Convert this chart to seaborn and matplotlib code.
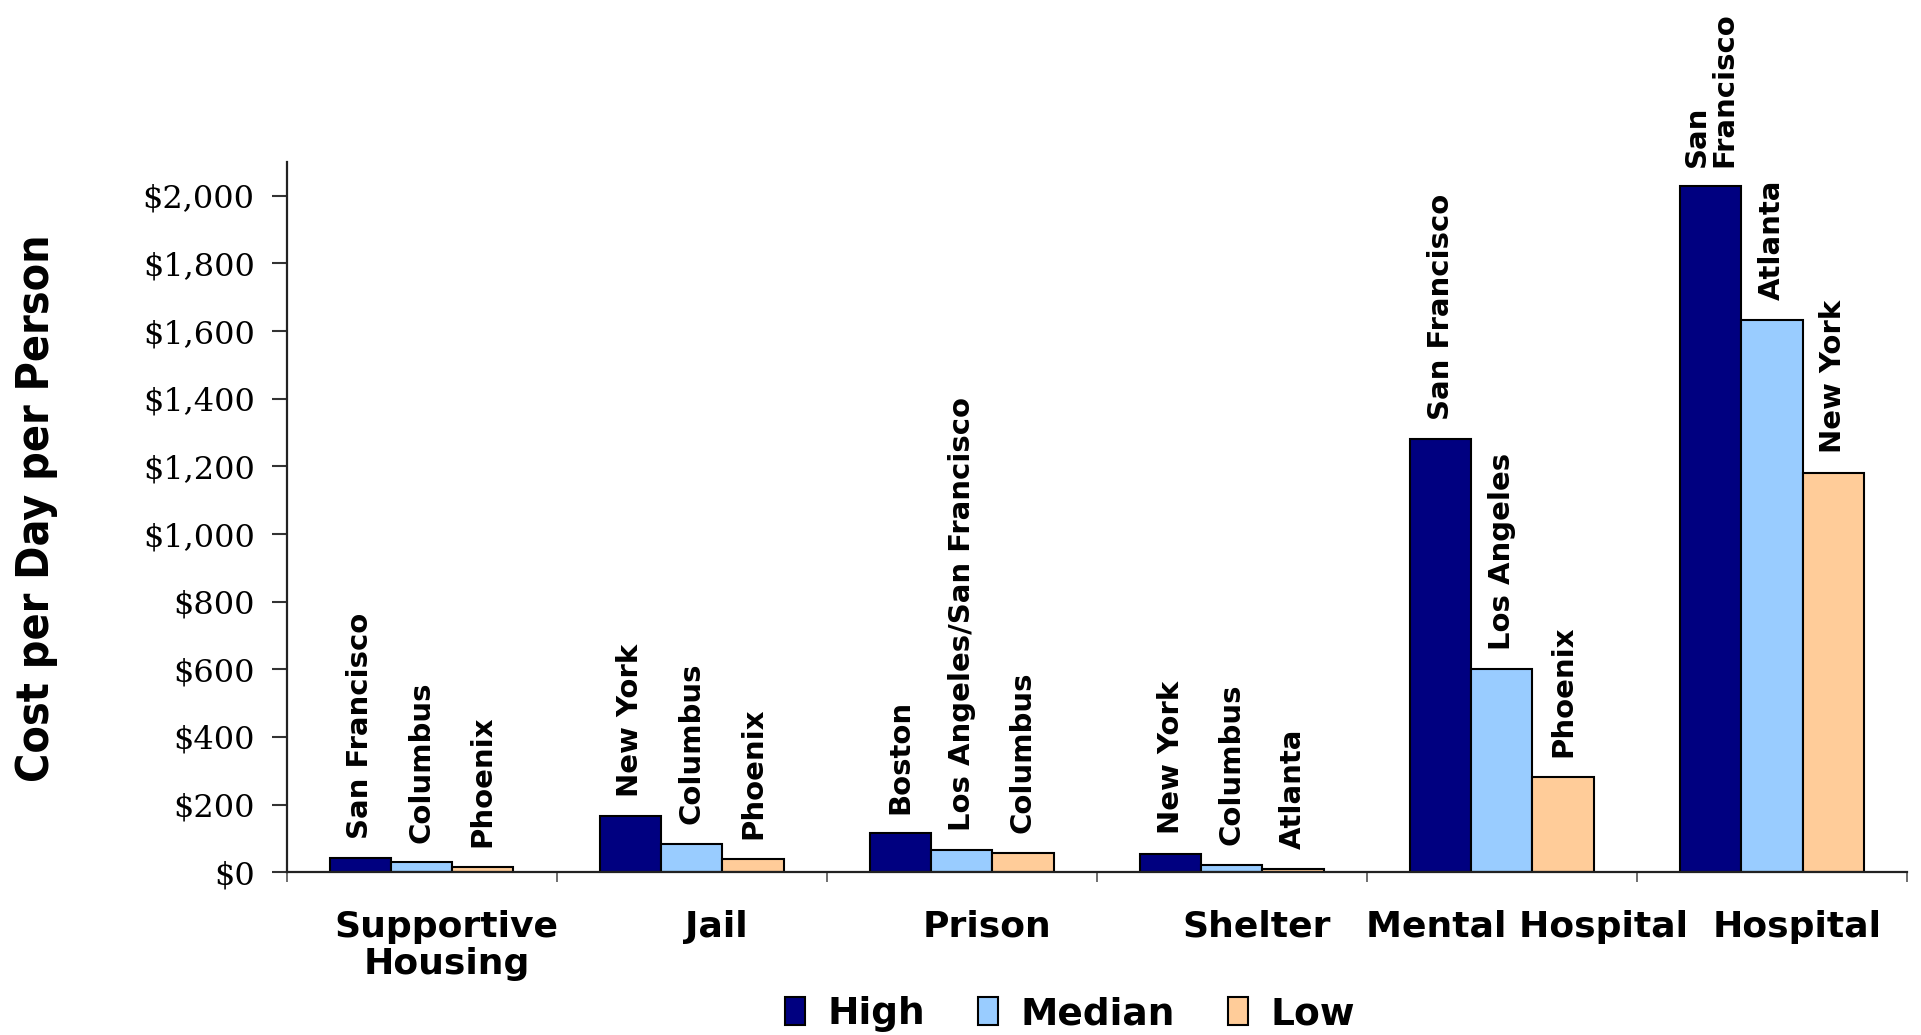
import matplotlib
matplotlib.use("Agg")
import matplotlib.pyplot as plt
import matplotlib.transforms as mtransforms
from matplotlib.ticker import FuncFormatter
import pandas as pd
import seaborn as sns

categories = ["Supportive\nHousing", "Jail", "Prison", "Shelter", "Mental Hospital", "Hospital"]
levels = ["High", "Median", "Low"]
high = [41, 166, 115, 55, 1281, 2029]
median = [30, 85, 65, 23, 600, 1634]
low = [16, 40, 58, 10, 282, 1181]
high_city = ["San Francisco", "New York", "Boston", "New York", "San Francisco", "San\nFrancisco"]
median_city = ["Columbus", "Columbus", "Los Angeles/San Francisco", "Columbus", "Los Angeles", "Atlanta"]
low_city = ["Phoenix", "Phoenix", "Columbus", "Atlanta", "Phoenix", "New York"]
colors = ["#000080", "#99CCFF", "#FFCC99"]

df = pd.DataFrame({
    "category": categories * 3,
    "level": [lv for lv in levels for _ in categories],
    "cost": high + median + low,
})

sns.set_style("white")
plt.rcParams.update({"text.color": "black", "axes.labelcolor": "black",
                     "xtick.color": "black", "ytick.color": "black"})
fig = plt.figure(figsize=(19.21, 10.35), dpi=100)
ax = fig.add_axes([0.1492, 0.1572, 0.8435, 0.6863])

sns.barplot(data=df, x="category", y="cost", hue="level", order=categories,
            hue_order=levels, palette=colors, width=0.68, gap=0,
            edgecolor="black", linewidth=1.5, saturation=1, ax=ax, legend=True)

# city labels above each bar
for bars, cities in zip(ax.containers, [high_city, median_city, low_city]):
    for bar, city in zip(bars, cities):
        ax.annotate(city, (bar.get_x() + bar.get_width() / 2, bar.get_height()),
                    xytext=(0, 14), textcoords="offset points", rotation=90,
                    ha="center", va="bottom", multialignment="left",
                    fontsize=21, fontweight="bold", family="DejaVu Sans",
                    linespacing=0.95)

ax.set_xlim(-0.5, 5.5)
ax.set_ylim(0, 2100)
ax.set_yticks(range(0, 2001, 200))
ax.yaxis.set_major_formatter(FuncFormatter(lambda v, p: f"${v:,.0f}"))
for lbl in ax.get_yticklabels():
    lbl.set_family("DejaVu Serif")
    lbl.set_fontsize(23)
ax.tick_params(axis="y", length=11, width=1.5, pad=12, color="#333333", left=True)

# group separators as ticks, category names as text
ax.set_xticks([i - 0.5 for i in range(len(categories) + 1)])
ax.set_xticklabels([])
ax.tick_params(axis="x", length=7, width=1.2, color="#555555", bottom=True)
ax.set_xlabel("")
ax.set_ylabel("")
offset = mtransforms.ScaledTranslation(18 / 72, -27 / 72, fig.dpi_scale_trans)
trans = mtransforms.blended_transform_factory(ax.transData, ax.transAxes) + offset
for i, cat in enumerate(categories):
    ax.text(i, 0, cat, transform=trans, ha="center", va="top",
            fontsize=26, fontweight="bold", family="DejaVu Sans", linespacing=1.12)

sns.despine(ax=ax)
for side in ["left", "bottom"]:
    ax.spines[side].set_linewidth(1.6)
    ax.spines[side].set_color("#222222")

fig.text(0.019, 0.509, "Cost per Day per Person", rotation=90, ha="center", va="center",
         fontsize=32, fontweight="bold", fontstretch="condensed", family="DejaVu Sans")

handles, labels = ax.get_legend_handles_labels()
ax.get_legend().remove()
fig.legend(handles, labels, loc="center", bbox_to_anchor=(0.557, 0.02), ncol=3,
           frameon=False, prop={"family": "DejaVu Sans", "weight": "bold", "size": 27},
           handlelength=0.55, handleheight=0.75, handletextpad=0.6, columnspacing=1.4)

fig.savefig("out.png", dpi=100)
